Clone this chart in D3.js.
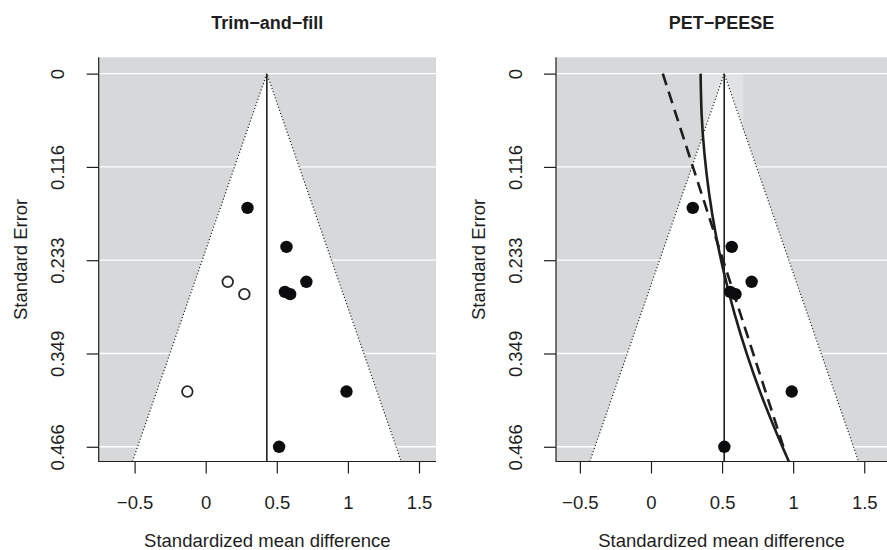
<!DOCTYPE html>
<html>
<head>
<meta charset="utf-8">
<script src="https://cdn.jsdelivr.net/npm/d3@7"></script>
<style>
  body { margin: 0; background: #fff; }
  svg { display: block; font-family: "Liberation Sans", Arial, sans-serif; }
</style>
</head>
<body>
<div id="chart"></div>
<script>
    // observed studies (effect size, standard error)
    const yi = [0.294, 0.568, 0.708, 0.557, 0.594, 0.99, 0.516];
    const sei = [0.1677, 0.2164, 0.260, 0.2725, 0.2754, 0.397, 0.466];

    // studies imputed by trim-and-fill
    const filledYi = [0.155, 0.272, -0.129];
    const filledSei = [0.260, 0.2754, 0.397];

    // axis ticks
    const xTicks = [-0.5, 0, 0.5, 1, 1.5];
    const xTickLabels = ["\u22120.5", "0", "0.5", "1", "1.5"];
    const seTicks = [0, 0.1165, 0.233, 0.3495, 0.466];
    const seTickLabels = ["0", "0.116", "0.233", "0.349", "0.466"];

    // estimates and funnel edges at the bottom of the plot
    const tfEstimate = 0.43;
    const tfFunnelBottom = [-0.515, 1.375];
    const ppEstimate = 0.515;
    const ppFunnelBottom = [-0.43, 1.46];

    // PET line (dashed) and PEESE curve (solid)
    const petSe = [0, 0.466];
    const petEst = [0.083, 0.931];
    const peeseSe = [0, 0.05, 0.1, 0.15, 0.2, 0.25, 0.3, 0.35, 0.4, 0.45, 0.4844];
    const peeseEst = [0.349, 0.356, 0.376, 0.409, 0.455, 0.515, 0.588, 0.674, 0.773, 0.886, 0.970];

    // lighter patch near the top of the PET-PEESE panel
    const patchEst = [0.356, 0.649];
    const patchSe = [0, 0.071];

    const w = 887;
    const h = 550;
    const plotTop = 57.3;
    const plotBottom = 461.5;
    const seDomain = [-0.0204, 0.4844];
    const back = "#d7d8da";
    const ink = "#1e1e1e";

    const svg = d3.select('#chart')
        .append('svg')
        .attr('width', w)
        .attr('height', h);

    const yScale = d3.scaleLinear()
        .domain(seDomain)
        .range([plotTop, plotBottom]);

    function panel(opts) {
        const xScale = d3.scaleLinear()
            .domain(opts.xDomain)
            .range([opts.left, opts.right]);

        const g = svg.append('g');

        g.append('rect')
            .attr('x', opts.left)
            .attr('y', plotTop)
            .attr('width', opts.right - opts.left)
            .attr('height', plotBottom - plotTop)
            .attr('fill', back);

        if (opts.patch) {
            g.append('rect')
                .attr('x', xScale(patchEst[0]))
                .attr('y', yScale(patchSe[0]))
                .attr('width', xScale(patchEst[1]) - xScale(patchEst[0]))
                .attr('height', yScale(patchSe[1]) - yScale(patchSe[0]))
                .attr('fill', '#e1e2e3');
        }

        // white grid lines at the tick positions
        g.selectAll('.grid')
            .data(seTicks)
            .enter()
            .append('line')
            .attr('x1', opts.left)
            .attr('x2', opts.right)
            .attr('y1', (d) => yScale(d))
            .attr('y2', (d) => yScale(d))
            .attr('stroke', '#fff')
            .attr('stroke-width', 1.3);

        // funnel
        const seBottom = seDomain[1];
        const funnel = [
            [xScale(opts.funnel[0]), yScale(seBottom)],
            [xScale(opts.estimate), yScale(0)],
            [xScale(opts.funnel[1]), yScale(seBottom)]
        ];
        g.append('path')
            .attr('d', 'M' + funnel.join('L') + 'Z')
            .attr('fill', '#fff');
        g.append('path')
            .attr('d', 'M' + funnel.join('L'))
            .attr('fill', 'none')
            .attr('stroke', ink)
            .attr('stroke-width', 1.2)
            .attr('stroke-dasharray', '1.1,2.2');

        // estimate line
        g.append('line')
            .attr('x1', xScale(opts.estimate))
            .attr('x2', xScale(opts.estimate))
            .attr('y1', yScale(0))
            .attr('y2', plotBottom)
            .attr('stroke', ink)
            .attr('stroke-width', 1.6);

        if (opts.curves) {
            const line = d3.line()
                .x((d) => xScale(d[0]))
                .y((d) => yScale(d[1]));
            g.append('path')
                .attr('d', line(petSe.map((s, i) => [petEst[i], s])))
                .attr('fill', 'none')
                .attr('stroke', ink)
                .attr('stroke-width', 2.6)
                .attr('stroke-dasharray', '12,7');
            g.append('path')
                .attr('d', line.curve(d3.curveNatural)(peeseSe.map((s, i) => [peeseEst[i], s])))
                .attr('fill', 'none')
                .attr('stroke', ink)
                .attr('stroke-width', 2.6);
        }

        if (opts.filled) {
            g.selectAll('.open')
                .data(filledYi)
                .enter()
                .append('circle')
                .attr('cx', (d) => xScale(d))
                .attr('cy', (d, i) => yScale(filledSei[i]))
                .attr('r', 5.3)
                .attr('fill', '#fff')
                .attr('stroke', '#2a2a2a')
                .attr('stroke-width', 1.8);
        }

        g.selectAll('.pt')
            .data(yi)
            .enter()
            .append('circle')
            .attr('cx', (d) => xScale(d))
            .attr('cy', (d, i) => yScale(sei[i]))
            .attr('r', 6.2)
            .attr('fill', '#0c0c0e');

        // axes
        const xAxis = d3.axisBottom(xScale)
            .tickValues(xTicks)
            .tickFormat((d, i) => xTickLabels[i])
            .tickSize(12);
        const gx = g.append('g')
            .attr('transform', 'translate(0,' + plotBottom + ')')
            .call(xAxis);
        gx.select('.domain').remove();
        gx.selectAll('line').attr('stroke', ink).attr('stroke-width', 1.2);
        gx.selectAll('text')
            .attr('y', 47.5)
            .attr('dy', 0)
            .attr('fill', ink)
            .style('font-size', '18.5px');

        const yAxis = d3.axisLeft(yScale)
            .tickValues(seTicks)
            .tickFormat((d, i) => seTickLabels[i])
            .tickSize(12);
        const gy = g.append('g')
            .attr('transform', 'translate(' + opts.left + ',0)')
            .call(yAxis);
        gy.select('.domain').remove();
        gy.selectAll('line').attr('stroke', ink).attr('stroke-width', 1.2);
        gy.selectAll('text')
            .attr('transform', 'rotate(-90)')
            .attr('x', 0)
            .attr('y', -34.5)
            .attr('dy', 0)
            .attr('text-anchor', 'middle')
            .attr('fill', ink)
            .style('font-size', '18.5px');

        // L-shaped box
        g.append('path')
            .attr('d', 'M' + opts.left + ',' + plotTop + 'V' + plotBottom + 'H' + opts.right)
            .attr('fill', 'none')
            .attr('stroke', ink)
            .attr('stroke-width', 1.2);

        const mid = (opts.left + opts.right) / 2;
        svg.append('text')
            .attr('x', mid)
            .attr('y', 28.5)
            .attr('text-anchor', 'middle')
            .attr('font-weight', 'bold')
            .attr('fill', ink)
            .style('font-size', '18px')
            .text(opts.title);

        svg.append('text')
            .attr('x', mid)
            .attr('y', 546.5)
            .attr('text-anchor', 'middle')
            .attr('fill', ink)
            .style('font-size', '18.5px')
            .text('Standardized mean difference');

        svg.append('text')
            .attr('transform', 'translate(' + (opts.left - 71.5) + ',' + ((plotTop + plotBottom) / 2) + ') rotate(-90)')
            .attr('text-anchor', 'middle')
            .attr('fill', ink)
            .style('font-size', '18.5px')
            .text('Standard Error');
    }

    panel({
        title: 'Trim\u2212and\u2212fill',
        left: 98.7, right: 436,
        xDomain: [-0.7525, 1.6195],
        estimate: tfEstimate,
        funnel: tfFunnelBottom,
        filled: true
    });

    panel({
        title: 'PET\u2212PEESE',
        left: 556, right: 887,
        xDomain: [-0.668, 1.66],
        estimate: ppEstimate,
        funnel: ppFunnelBottom,
        curves: true,
        patch: true
    });
</script>
</body>
</html>
